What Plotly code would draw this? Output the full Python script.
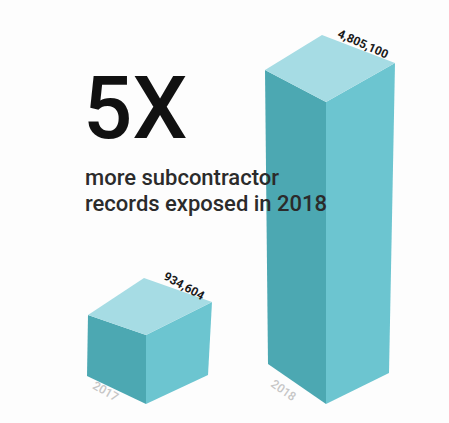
import plotly.graph_objects as go

# ---- data ----
years = ["2017", "2018"]
records_exposed = [934604, 4805100]
headline = "5X"
subtitle_lines = ["more subcontractor", "records exposed in 2018"]

# ---- layout / style ----
W, H = 449, 423
Y_RANGE = [-527000, 6500000]          # records axis
RPP = (Y_RANGE[1] - Y_RANGE[0]) / H   # records per pixel
BASE = -211000                        # plinth depth below zero (style)

def py(ypix):
    """pixel row -> axis value"""
    return Y_RANGE[1] - ypix * RPP

# per-bar isometric geometry (pixel offsets, up = positive)
bar_style = [
    dict(fx=146, tl=(-58, 20), tr=(66, 33), tb=(-2, 57), bl=(-59, 28), br=(62, 29),
         lab=(184, 286, 29), yr=(105, 391, 30)),
    dict(fx=326, tl=(-61, 32), tr=(69, 39), tb=(-4, 67), bl=(-58, 40), br=(63, 31),
         lab=(363, 44, 24), yr=(283, 390, 35)),
]
TOP_C = "#a6dce4"
LEFT_C = "#4ca8b2"
RIGHT_C = "#6cc5d0"

fig = go.Figure()

for v, st in zip(records_exposed, bar_style):
    fx = st["fx"]
    ft = (fx, v)
    fb = (fx, BASE)
    lt = (fx + st["tl"][0], v + st["tl"][1] * RPP)
    rt = (fx + st["tr"][0], v + st["tr"][1] * RPP)
    bt = (fx + st["tb"][0], v + st["tb"][1] * RPP)
    lb = (fx + st["bl"][0], BASE + st["bl"][1] * RPP)
    rb = (fx + st["br"][0], BASE + st["br"][1] * RPP)
    faces = [
        ([ft, lt, lb, fb, ft], LEFT_C),
        ([ft, rt, rb, fb, ft], RIGHT_C),
        ([ft, lt, bt, rt, ft], TOP_C),
    ]
    for pts, col in faces:
        fig.add_trace(go.Scatter(
            x=[p[0] for p in pts], y=[p[1] for p in pts],
            fill="toself", fillcolor=col, mode="lines",
            line=dict(width=0, color=col), hoverinfo="skip", showlegend=False))

annotations = []
for v, yr, st in zip(records_exposed, years, bar_style):
    lx, ly, la = st["lab"]
    annotations.append(dict(
        x=lx, y=py(ly), xref="x", yref="y", text=f"{v:,}", showarrow=False,
        textangle=la, font=dict(family="Roboto", size=12, color="#1a1a1a", weight=700)))
    yx, yy, ya = st["yr"]
    annotations.append(dict(
        x=yx, y=py(yy), xref="x", yref="y", text=yr, showarrow=False,
        textangle=ya, font=dict(family="Roboto", size=12, color="#c6c6c6", weight=500)))

annotations.append(dict(
    x=81, y=py(108), xref="x", yref="y", text=headline, showarrow=False,
    xanchor="left", yanchor="middle",
    font=dict(family="Roboto", size=87, color="#111111", weight=500)))
for i, line in enumerate(subtitle_lines):
    annotations.append(dict(
        x=83, y=py(177 + 26 * i), xref="x", yref="y", text=line, showarrow=False,
        xanchor="left", yanchor="middle",
        font=dict(family="Roboto", size=22, color="#2b2b2b", weight=500)))

fig.update_layout(
    width=W, height=H, margin=dict(l=0, r=0, t=0, b=0),
    paper_bgcolor="#fdfdfd", plot_bgcolor="#fdfdfd",
    xaxis=dict(range=[0, W], visible=False, fixedrange=True),
    yaxis=dict(range=Y_RANGE, visible=False, fixedrange=True),
    annotations=annotations,
)

fig.write_html("out.html")
